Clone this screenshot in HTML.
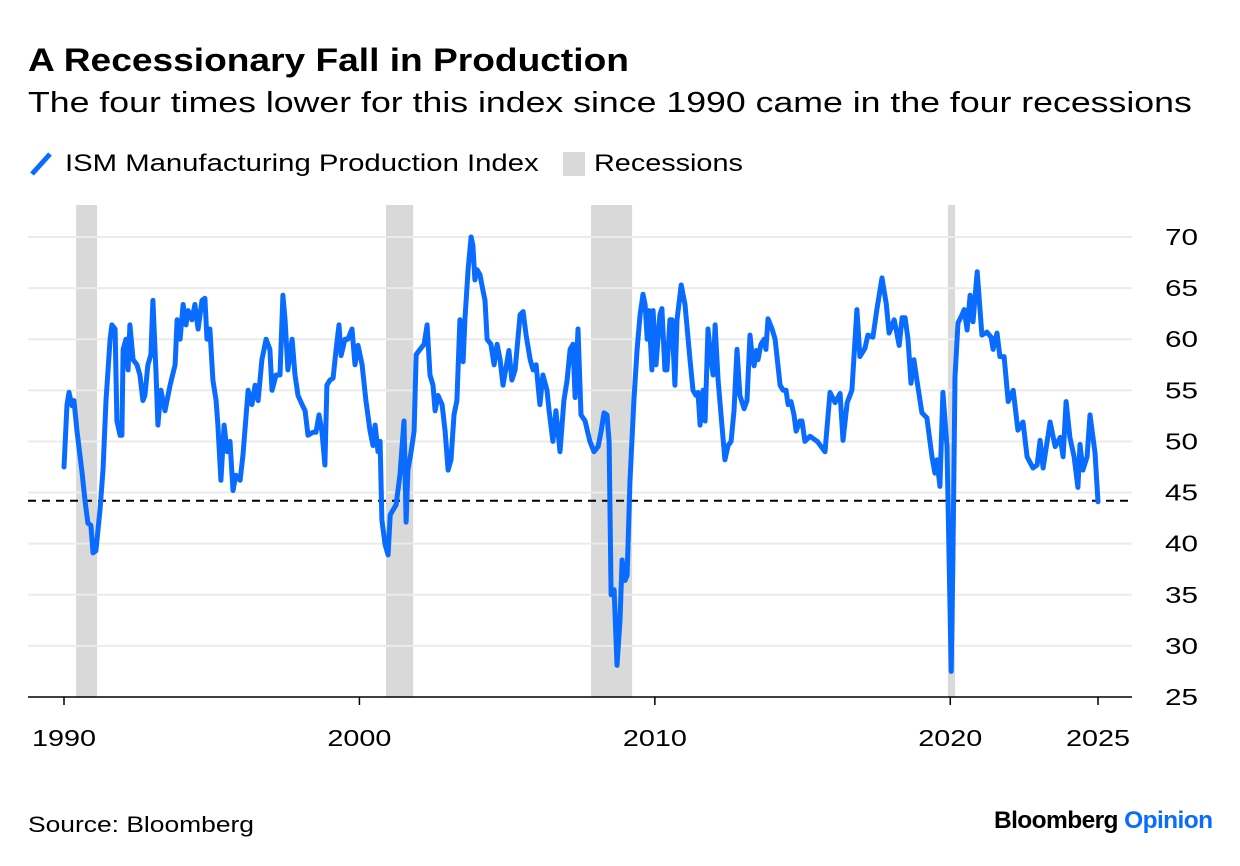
<!DOCTYPE html>
<html><head><meta charset="utf-8">
<style>
body{margin:0;background:#fff;font-family:"Liberation Sans",sans-serif;}
#wrap{position:relative;width:1240px;height:866px;overflow:hidden;}
.t{position:absolute;white-space:nowrap;color:#000;transform-origin:left top;}
</style></head><body>
<div id="wrap">
<div class="t" style="left:28px;top:42px;font-size:32px;font-weight:bold;transform:scaleX(1.16);">A Recessionary Fall in Production</div>
<div class="t" style="left:28px;top:87px;font-size:29px;transform:scaleX(1.23);">The four times lower for this index since 1990 came in the four recessions</div>
<div>
<svg style="position:absolute;left:28px;top:150px" width="28" height="28"><line x1="4" y1="24" x2="22" y2="4" stroke="#0a6cff" stroke-width="5"/></svg>
<div class="t" style="left:65px;top:150px;font-size:24px;transform:scaleX(1.22);">ISM Manufacturing Production Index</div>
<div style="position:absolute;left:563px;top:152px;width:22px;height:24px;background:#d9d9d9;"></div>
<div class="t" style="left:594px;top:150px;font-size:24px;transform:scaleX(1.2);">Recessions</div>
</div>
<svg id="chart" style="position:absolute;left:0;top:0" width="1240" height="866"></svg>
<div class="t" style="left:28px;top:812px;font-size:22px;transform:scaleX(1.2);">Source: Bloomberg</div>
<div class="t" style="left:994px;top:807px;font-size:24.5px;font-weight:bold;letter-spacing:-0.6px;">Bloomberg <span style="color:#0a6cff">Opinion</span></div>
</div>
<script>
const yTicks=[25,30,35,40,45,50,55,60,65,70];
const xTickYears=[1990,2000,2010,2020,2025];
const xTickLabels=["1990","2000","2010","2020","2025"];
const recessionStart=[1990.41,2000.9,2007.84,2019.92];
const recessionEnd=[1991.12,2001.82,2009.23,2020.16];
const thresholdValue=44.2;
const series1990s=[[1990.00,47.5],[1990.10,53.6],[1990.17,54.8],[1990.27,53.5],[1990.34,54],[1990.44,51],[1990.61,47],[1990.71,44.2],[1990.81,42],[1990.91,41.8],[1990.98,39.1],[1991.08,39.3],[1991.22,43.3],[1991.32,47.2],[1991.42,54],[1991.56,60],[1991.62,61.4],[1991.73,61],[1991.79,52],[1991.90,50.6],[1991.96,50.6],[1992.00,59],[1992.10,60],[1992.17,57],[1992.23,61.4],[1992.34,58],[1992.47,57.5],[1992.57,56.5],[1992.67,54],[1992.74,54.5],[1992.84,57.5],[1992.94,58.5],[1993.01,63.8],[1993.11,57],[1993.18,51.6],[1993.28,55],[1993.42,53],[1993.59,55.5],[1993.76,57.5],[1993.83,61.9],[1993.93,60],[1994.03,63.4],[1994.13,61.4],[1994.20,62.8],[1994.33,61.9],[1994.43,63.4],[1994.54,61],[1994.67,63.8],[1994.77,64],[1994.84,60],[1994.94,61],[1995.04,56],[1995.15,54],[1995.21,51.6],[1995.31,46.2],[1995.42,51.6],[1995.52,49],[1995.62,50],[1995.72,45.2],[1995.82,46.7],[1995.96,46.2],[1996.06,48.7],[1996.23,55],[1996.36,53.6],[1996.47,55.5],[1996.57,54],[1996.70,58],[1996.84,60],[1996.97,59],[1997.04,55],[1997.18,56.5],[1997.31,56.5],[1997.41,64.3],[1997.48,62],[1997.58,57],[1997.72,60],[1997.82,56.5],[1997.92,54.5],[1998.06,53.6],[1998.16,53],[1998.26,50.6],[1998.43,50.9],[1998.53,50.9],[1998.63,52.6],[1998.73,51],[1998.83,47.7],[1998.90,55.5],[1999.00,56],[1999.11,56.2],[1999.21,59],[1999.31,61.4],[1999.38,58.4],[1999.51,60],[1999.61,60],[1999.75,61],[1999.85,57.5],[1999.95,59.4]];
const series2000s=[[2000.09,57.5],[2000.22,54],[2000.36,51],[2000.46,49.6],[2000.53,51.6],[2000.63,49],[2000.70,50],[2000.76,42.3],[2000.87,39.9],[2000.97,38.9],[2001.04,42.8],[2001.14,43.3],[2001.24,43.8],[2001.37,46.7],[2001.51,52],[2001.58,42.1],[2001.64,47.2],[2001.75,49],[2001.85,51],[2001.92,58.5],[2002.05,59],[2002.19,59.5],[2002.29,61.4],[2002.39,56.5],[2002.49,55.5],[2002.56,53],[2002.66,54.5],[2002.80,53.6],[2002.90,51],[2003.00,47.2],[2003.10,48.2],[2003.20,52.6],[2003.30,54],[2003.40,61.9],[2003.51,57.8],[2003.57,61.9],[2003.68,66.8],[2003.78,70],[2003.84,69.2],[2003.91,65.8],[2003.98,66.8],[2004.08,66.3],[2004.18,64.8],[2004.25,63.8],[2004.32,60],[2004.45,59.5],[2004.56,57.5],[2004.66,59.5],[2004.76,58],[2004.86,55.5],[2004.96,57.2],[2005.06,58.9],[2005.16,56],[2005.27,57],[2005.44,62.4],[2005.54,62.7],[2005.64,60.4],[2005.78,58],[2005.88,57],[2005.98,57.5],[2006.11,53.6],[2006.21,56.5],[2006.35,55],[2006.42,53],[2006.55,50],[2006.65,53],[2006.79,49],[2006.92,54],[2007.03,56],[2007.13,59],[2007.23,59.5],[2007.30,54.3],[2007.40,61],[2007.50,52.6],[2007.64,52],[2007.80,50],[2007.94,49],[2008.08,49.5],[2008.18,51],[2008.28,52.8],[2008.38,52.6],[2008.45,50],[2008.52,35],[2008.62,35.5],[2008.72,28.1],[2008.82,32.5],[2008.89,38.4],[2008.99,36.4],[2009.06,36.9],[2009.16,46.2],[2009.29,54],[2009.40,59],[2009.50,62.4],[2009.60,64.4],[2009.67,63.4],[2009.74,60],[2009.80,62.8],[2009.90,57],[2009.94,62.8]];
const series2010s=[[2010.04,57.5],[2010.17,62.4],[2010.24,63],[2010.34,57],[2010.41,57],[2010.51,61.9],[2010.58,61.9],[2010.68,55.5],[2010.75,61.9],[2010.89,65.3],[2011.02,63.4],[2011.19,58],[2011.29,55],[2011.39,54.5],[2011.46,54.8],[2011.53,51.6],[2011.63,55],[2011.70,52],[2011.80,61],[2011.90,58],[2011.97,56.5],[2012.04,61.4],[2012.14,56],[2012.27,51.6],[2012.37,48.2],[2012.48,49.6],[2012.58,50],[2012.68,53],[2012.78,59],[2012.88,54.5],[2013.02,53.2],[2013.12,54],[2013.22,60.4],[2013.29,58.4],[2013.36,57.4],[2013.43,58.9],[2013.49,58],[2013.59,59.5],[2013.70,60],[2013.76,59],[2013.83,62],[2013.97,61],[2014.07,60],[2014.24,55.5],[2014.34,55],[2014.44,55],[2014.51,53.6],[2014.61,53.9],[2014.71,52.6],[2014.78,51],[2014.91,52],[2014.98,52],[2015.08,50],[2015.25,50.5],[2015.50,50],[2015.76,49],[2015.93,54.8],[2016.10,53.8],[2016.27,54.7],[2016.37,50.1],[2016.51,53.8],[2016.67,55],[2016.84,62.9],[2016.94,58.3],[2017.11,59.1],[2017.21,60.4],[2017.38,60.2],[2017.52,63],[2017.69,66],[2017.83,63.5],[2017.93,60.6],[2018.10,61.9],[2018.27,59.4],[2018.37,62.1],[2018.47,62.1],[2018.57,60],[2018.67,55.7],[2018.77,58],[2018.87,56],[2019.04,52.8],[2019.21,52.3],[2019.38,48.5],[2019.48,46.9],[2019.55,48.2],[2019.65,45.6],[2019.75,54.8],[2019.89,49.5]];
const series2020s=[[2020.03,27.5],[2020.09,38.4],[2020.16,56.3],[2020.26,61.6],[2020.40,62.4],[2020.47,62.9],[2020.57,60.9],[2020.67,64.3],[2020.77,61.7],[2020.91,66.6],[2021.07,60.4],[2021.24,60.7],[2021.38,60.2],[2021.45,59],[2021.58,60.6],[2021.68,58.3],[2021.82,58.3],[2021.96,53.9],[2022.13,55],[2022.29,51.1],[2022.46,51.9],[2022.60,48.5],[2022.80,47.4],[2022.94,47.7],[2023.04,50.1],[2023.14,47.4],[2023.38,51.9],[2023.55,49.5],[2023.72,50.4],[2023.82,48.5],[2023.92,53.9],[2024.05,50.4],[2024.19,48.5],[2024.32,45.5],[2024.39,49.7],[2024.49,47.2],[2024.63,48.5],[2024.73,52.6],[2024.90,48.9],[2025.00,44.1]];

const NS='http://www.w3.org/2000/svg';
const svg=document.getElementById('chart');
const X0=64,X1=1098,Y0=697,Y1=237;
function xScale(yr){return X0+(yr-1990)*(X1-X0)/35;}
function yScale(v){return Y0-(v-25)*(Y0-Y1)/45;}
function mk(tag,attrs){const e=document.createElementNS(NS,tag);for(const k in attrs)e.setAttribute(k,attrs[k]);svg.appendChild(e);return e;}

for(let i=0;i<recessionStart.length;i++){
  const r=mk('rect',{x:xScale(recessionStart[i]),y:205,width:xScale(recessionEnd[i])-xScale(recessionStart[i]),height:Y0-205,fill:'#d9d9d9'});
  
  
}
yTicks.forEach(v=>{
  if(v>25){
    const g=mk('line',{x1:28,x2:1132,y1:yScale(v),y2:yScale(v),stroke:'#ebebeb','stroke-width':2});
    
    
  }
  const t=mk('text',{x:1165,y:yScale(v)+8,'font-size':23,'font-family':'Liberation Sans, sans-serif',fill:'#000',textLength:33,lengthAdjust:'spacingAndGlyphs'});
  t.textContent=v;
  
  
});
const base=mk('line',{x1:28,x2:1132,y1:Y0,y2:Y0,stroke:'#000','stroke-width':1.5});


xTickYears.forEach((yr,i)=>{
  const tk=mk('line',{x1:xScale(yr),x2:xScale(yr),y1:Y0,y2:Y0+8,stroke:'#000','stroke-width':1.5});
  
  
  const t=mk('text',{x:xScale(yr)-32,y:746,'font-size':23,'font-family':'Liberation Sans, sans-serif',fill:'#000',textLength:64,lengthAdjust:'spacingAndGlyphs'});
  t.textContent=xTickLabels[i];
  
  
});
const thr=mk('line',{x1:28,x2:1132,y1:yScale(thresholdValue),y2:yScale(thresholdValue),stroke:'#000','stroke-width':2,'stroke-dasharray':'8,6'});


const allPoints=series1990s.concat(series2000s,series2010s,series2020s);
let d='';
allPoints.forEach((pt,i)=>{d+=(i?'L':'M')+xScale(pt[0]).toFixed(1)+','+yScale(pt[1]).toFixed(1);});
const p=mk('path',{d:d,fill:'none',stroke:'#0a6cff','stroke-width':5,'stroke-linejoin':'round','stroke-linecap':'round'});


</script>
</body></html>
